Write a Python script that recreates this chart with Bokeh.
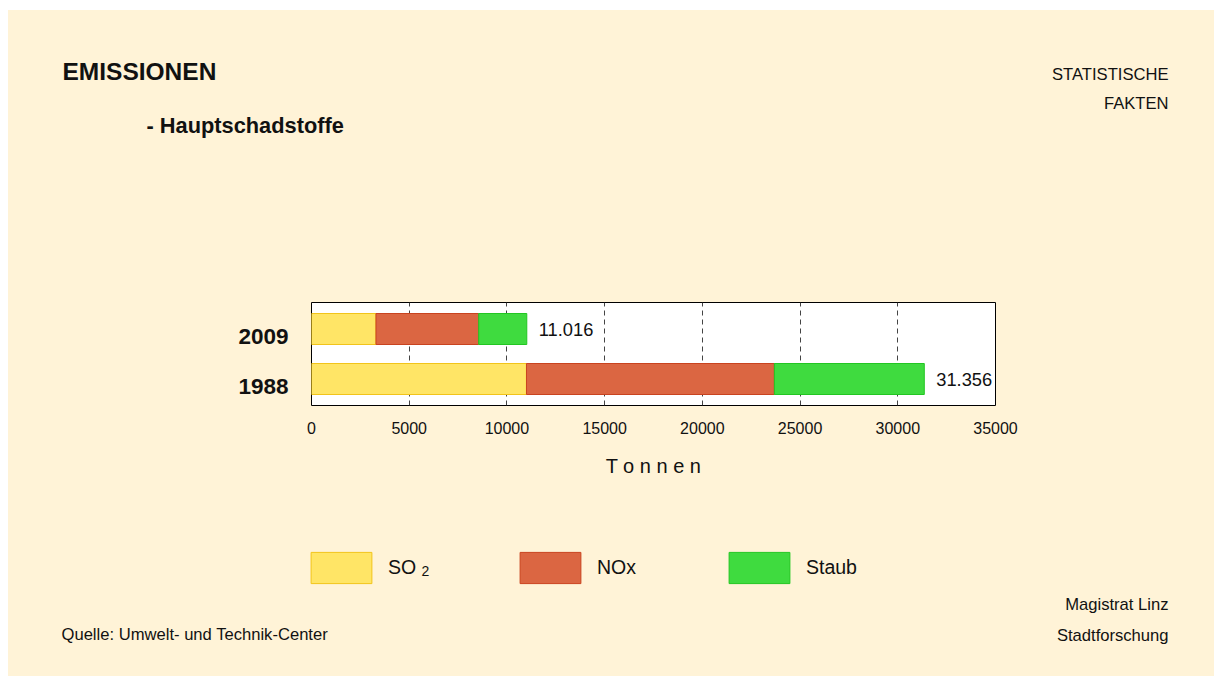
from bokeh.plotting import figure
from bokeh.layouts import column
from bokeh.models import ColumnDataSource, Range1d, FixedTicker, Label, Legend, LegendItem
from bokeh.embed import file_html
from bokeh.resources import INLINE
from bokeh.core.properties import value

# ---- data ----
years = ["1988", "2009"]
so2 = [11000, 3300]
nox = [12685, 5256]
staub = [7671, 2460]
series_labels = ["SO", "NOx", "Staub"]
x_ticks = [0, 5000, 10000, 15000, 20000, 25000, 30000, 35000]

# ---- style ----
BG = "#FFF3D7"
FONT = "Liberation Sans"
TXT = "#111111"
fills = ["#FFE566", "#DB6642", "#3FDB3F"]
lines = ["#F2C41A", "#C9431F", "#22C622"]
W = 1206
YEAR_LABEL_SHIFT = 0.14  # year labels sit slightly below bar centres
SMALL = "16.6px"


def no_align(f):
    if "frame_align" in f.properties():
        f.frame_align = False


def blank(h, y0, y1):
    f = figure(frame_width=W, frame_height=h, x_range=Range1d(8, 8 + W), y_range=Range1d(y1, y0),
               output_backend="svg", toolbar_location=None, title=None,
               x_axis_location=None, y_axis_location=None, min_border=0,
               background_fill_color=BG, border_fill_color=BG, outline_line_color=None)
    f.xgrid.visible = False
    f.ygrid.visible = False
    no_align(f)
    return f


def lab(f, text, px, py, size, bold=False, align="left", baseline="middle"):
    f.add_layout(Label(x=px, y=py, text=text, text_font=FONT, text_font_size=size,
                       text_font_style="bold" if bold else "normal",
                       text_align=align, text_baseline=baseline, text_color=TXT))


# ---- header ----
head = blank(280, 10, 290)
lab(head, "EMISSIONEN", 62, 71, "24.5px", bold=True)
lab(head, "- Hauptschadstoffe", 146, 125, "21.8px", bold=True)
lab(head, "STATISTISCHE", 1168, 74, SMALL, align="right")
lab(head, "FAKTEN", 1168, 103, SMALL, align="right")

# ---- chart ----
n = len(years)
ypos = list(range(n))
c1 = list(so2)
c2 = [a + b for a, b in zip(c1, nox)]
c3 = [a + b for a, b in zip(c2, staub)]
totals_lbl = [f"{t:,}".replace(",", ".") for t in c3]
src = ColumnDataSource(dict(y=ypos, l0=[0] * n, r0=c1, r1=c2, r2=c3, lbl=totals_lbl))

p = figure(width=W, height=250, title=None,
           x_range=Range1d(0, 35000), y_range=Range1d(-0.53, 1.53),
           output_backend="svg", toolbar_location=None,
           min_border_left=303, min_border_right=219,
           min_border_top=12, min_border_bottom=135,
           background_fill_color="white", border_fill_color=BG,
           outline_line_color="black", outline_line_width=1)
no_align(p)

p.ygrid.visible = False
p.xgrid.ticker = FixedTicker(ticks=x_ticks)
p.xgrid.grid_line_color = "#444444"
p.xgrid.grid_line_dash = "5 4"
p.xgrid.grid_line_width = 1

bounds = [("l0", "r0"), ("r0", "r1"), ("r1", "r2")]
for (lft, rgt), fc, lc in zip(bounds, fills, lines):
    p.hbar(y="y", left=lft, right=rgt, height=0.62, source=src,
           fill_color=fc, line_color=lc, line_width=1)

p.text(x="r2", y="y", text="lbl", source=src, x_offset=12,
       text_baseline="middle", text_align="left",
       text_font=value(FONT), text_font_size=value("18.3px"), text_color=TXT)

xa = p.xaxis[0]
xa.ticker = FixedTicker(ticks=x_ticks)
xa.axis_line_color = None
xa.major_tick_line_color = None
xa.minor_tick_line_color = None
xa.major_tick_out = 0
xa.major_tick_in = 0
xa.major_label_text_font = FONT
xa.major_label_text_font_size = "16px"
xa.major_label_text_color = TXT
xa.major_label_standoff = 16
xa.axis_label = "T o n n e n"
xa.axis_label_text_font = FONT
xa.axis_label_text_font_size = "20px"
xa.axis_label_text_font_style = "normal"
xa.axis_label_text_color = TXT
xa.axis_label_standoff = 18

ytick_pos = [round(y - YEAR_LABEL_SHIFT, 2) for y in ypos]
ya = p.yaxis[0]
ya.ticker = FixedTicker(ticks=ytick_pos)
ya.major_label_overrides = {t: y for t, y in zip(ytick_pos, years)}
ya.axis_line_color = None
ya.major_tick_line_color = None
ya.minor_tick_line_color = None
ya.major_tick_out = 0
ya.major_tick_in = 0
ya.major_label_text_font = FONT
ya.major_label_text_font_size = "22.5px"
ya.major_label_text_font_style = "bold"
ya.major_label_text_color = TXT
ya.major_label_standoff = 23

# ---- footer (legend + source) ----
foot = blank(136, 540, 676)
items = []
for (lft, rgt), name, fc, lc in zip(bounds, series_labels, fills, lines):
    # hidden copies of the series, used only as legend swatches
    r = foot.hbar(y="y", left=lft, right=rgt, height=0.62, source=src,
                  fill_color=fc, line_color=lc, line_width=1, visible=False)
    items.append(LegendItem(label=name, renderers=[r]))

GW, GH = 76, 39   # legend glyph boxes (swatch drawn at 80 %)
leg = Legend(items=items, location=(303 - 8, 676 - 587), orientation="horizontal",
             glyph_width=GW, glyph_height=GH, label_standoff=9, label_width=124,
             padding=0, margin=0, spacing=0,
             border_line_alpha=0, background_fill_alpha=0,
             inactive_fill_alpha=0,
             label_text_font=FONT, label_text_font_size="19.5px", label_text_color=TXT)
foot.add_layout(leg)

lab(foot, "2", 421, 570, "14px")
lab(foot, "Magistrat Linz", 1168, 604, SMALL, align="right")
lab(foot, "Stadtforschung", 1168, 635, SMALL, align="right")
lab(foot, "Quelle: Umwelt- und Technik-Center", 61, 634, SMALL)

layout = column(head, p, foot, spacing=0, margin=(10, 8, 8, 8),
                styles={"background-color": BG})

open("out.html", "w").write(file_html(layout, INLINE))
